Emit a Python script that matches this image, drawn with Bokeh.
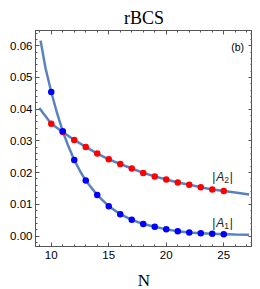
from bokeh.plotting import figure
from bokeh.models import Range1d, LinearAxis, FixedTicker, Label
from bokeh.embed import file_html
from bokeh.resources import INLINE

# Data points
N_pts = [10, 11, 12, 13, 14, 15, 16, 17, 18, 19, 20, 21, 22, 23, 24, 25]
A1_pts = [0.0454, 0.0330, 0.0240, 0.0175, 0.0129, 0.0094, 0.0069, 0.0051,
          0.0038, 0.0029, 0.0021, 0.0015, 0.0011, 0.0009, 0.0007, 0.0006]
A2_pts = [0.0354, 0.0328, 0.0303, 0.0281, 0.0260, 0.0242, 0.0227, 0.0213,
          0.0199, 0.0188, 0.0178, 0.0169, 0.0162, 0.0154, 0.0147, 0.0142]

# Fitted curves
N_fit1 = [9.07, 9.5, 10, 10.5, 11, 11.5, 12, 12.5, 13, 14, 15, 16, 17, 18, 19, 20, 21, 22, 23, 24, 25, 26, 27.2]
A1_fit = [0.0616, 0.0530, 0.0454, 0.0388, 0.0330, 0.0282, 0.0240, 0.0205, 0.0175, 0.0129, 0.0094,
          0.0069, 0.0051, 0.0038, 0.0029, 0.0021, 0.0015, 0.0011, 0.0009, 0.0007, 0.0006, 0.0005, 0.0004]
N_fit2 = [8.96, 10, 11, 12, 13, 14, 15, 16, 17, 18, 19, 20, 21, 22, 23, 24, 25, 26, 27.2]
A2_fit = [0.0404, 0.0354, 0.0328, 0.0303, 0.0281, 0.0260, 0.0242, 0.0227, 0.0213, 0.0199,
          0.0188, 0.0178, 0.0169, 0.0162, 0.0154, 0.0147, 0.0142, 0.0137, 0.0131]

x_major = [10, 15, 20, 25]
x_minor = list(range(8, 29))
y_major = [0.0, 0.01, 0.02, 0.03, 0.04, 0.05, 0.06]
y_minor = [i * 0.002 for i in range(-2, 34)]

frame_col = "#555555"
line_col = "#5b82c0"

p = figure(frame_width=217, frame_height=216, output_backend="svg", toolbar_location=None,
           x_range=Range1d(8.63, 27.5), y_range=Range1d(-0.0033, 0.0648),
           min_border_left=35, min_border_right=0, min_border_top=30, min_border_bottom=0)
p.background_fill_color = "white"
p.border_fill_color = "white"
p.outline_line_color = frame_col
p.grid.visible = False

p.title.text = "rBCS"
p.title.align = "center"
p.title.text_font = "Liberation Serif"
p.title.text_font_style = "normal"
p.title.text_font_size = "18px"
p.title.text_color = "black"
p.title.offset = 0
p.title.standoff = 6

def style_axis(ax):
    ax.axis_line_color = frame_col
    ax.major_tick_line_color = frame_col
    ax.minor_tick_line_color = frame_col
    ax.major_tick_in = 4
    ax.major_tick_out = 0
    ax.minor_tick_in = 2
    ax.minor_tick_out = 0
    ax.major_label_text_font = "Liberation Sans"
    ax.major_label_text_color = "black"
    ax.major_label_text_font_size = "11.5px"

xa = p.xaxis[0]
ya = p.yaxis[0]
xa.ticker = FixedTicker(ticks=x_major, minor_ticks=x_minor)
ya.ticker = FixedTicker(ticks=y_major, minor_ticks=y_minor)
style_axis(xa)
style_axis(ya)
ya.major_label_overrides = {v: f"{v:.2f}" for v in y_major}
xa.major_label_standoff = 4
ya.major_label_standoff = 3
xa.axis_label = "N"
xa.axis_label_text_font = "Liberation Serif"
xa.axis_label_text_font_style = "normal"
xa.axis_label_text_font_size = "17px"
xa.axis_label_text_color = "black"
xa.axis_label_standoff = 9

# Unlabelled mirror axes (right / top): ticks only, drawn as "minor" ticks so no labels exist
def tick_only_axis(positions, length, side):
    ax = LinearAxis(ticker=FixedTicker(ticks=[], minor_ticks=positions))
    ax.axis_line_color = frame_col
    ax.minor_tick_line_color = frame_col
    ax.minor_tick_in = length
    ax.minor_tick_out = 0
    ax.major_tick_in = 0
    ax.major_tick_out = 0
    ax.major_label_standoff = 0
    p.add_layout(ax, side)

tick_only_axis(y_minor, 2, "right")
tick_only_axis(y_major, 4, "right")
tick_only_axis(x_minor, 2, "above")
tick_only_axis(x_major, 4, "above")

p.line(N_fit1, A1_fit, line_color=line_col, line_width=2.5)
p.line(N_fit2, A2_fit, line_color=line_col, line_width=2.5)
p.scatter(N_pts, A2_pts, size=6.5, fill_color="#ff0000", line_color=None)
p.scatter(N_pts, A1_pts, size=6.5, fill_color="#0000ff", line_color=None)

p.add_layout(Label(x=26.2, y=0.0595, text="(b)", text_font="Liberation Sans",
                   text_font_size="10.5px", text_color="black",
                   text_align="center", text_baseline="middle"))

def abs_label(y, sub):
    x0 = 24.0
    common = dict(y=y, y_units="data", x_units="data", text_baseline="middle",
                  text_font="Liberation Sans", text_color="#222222")
    p.add_layout(Label(x=x0, text="|", text_font_size="12px", **common))
    p.add_layout(Label(x=x0, x_offset=4, text="A", text_font_size="12px",
                       text_font_style="italic", **common))
    p.add_layout(Label(x=x0, x_offset=12, y_offset=-3, text=sub, text_font_size="8.5px", **common))
    p.add_layout(Label(x=x0, x_offset=17.5, text="|", text_font_size="12px", **common))

abs_label(0.0187, "2")
abs_label(0.0040, "1")

open("out.html", "w").write(file_html(p, INLINE))
